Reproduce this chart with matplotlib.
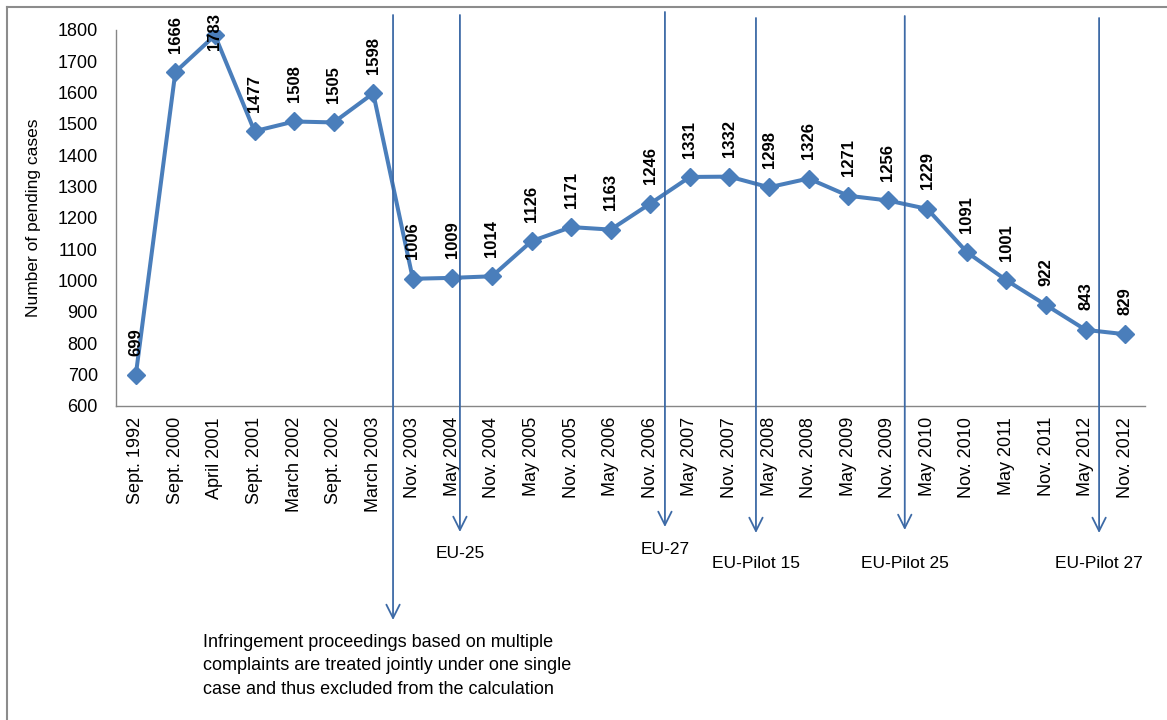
import matplotlib
matplotlib.use('Agg')
import matplotlib.pyplot as plt
from matplotlib.lines import Line2D

plt.rcParams['font.family'] = ['Liberation Sans', 'DejaVu Sans']

# survey dates and number of pending cases
dates = ['Sept. 1992', 'Sept. 2000', 'April 2001', 'Sept. 2001', 'March 2002',
         'Sept. 2002', 'March 2003', 'Nov. 2003', 'May 2004', 'Nov. 2004',
         'May 2005', 'Nov. 2005', 'May 2006', 'Nov. 2006', 'May 2007',
         'Nov. 2007', 'May 2008', 'Nov. 2008', 'May 2009', 'Nov. 2009',
         'May 2010', 'Nov. 2010', 'May 2011', 'Nov. 2011', 'May 2012', 'Nov. 2012']
pending = [699, 1666, 1783, 1477, 1508, 1505, 1598, 1006, 1009, 1014, 1126, 1171,
           1163, 1246, 1331, 1332, 1298, 1326, 1271, 1256, 1229, 1091, 1001, 922,
           843, 829]

# events marked with arrows: position (in category units), label
event_pos = [6.5, 8.19, 13.37, 15.67, 19.43, 24.34]
event_labels = ['', 'EU-25', 'EU-27', 'EU-Pilot 15', 'EU-Pilot 25', 'EU-Pilot 27']
note = ('Infringement proceedings based on multiple\n'
        'complaints are treated jointly under one single\n'
        'case and thus excluded from the calculation')

W, H = 1167, 720
fig = plt.figure(figsize=(W / 100, H / 100), dpi=100)
ax = fig.add_axes([116 / W, 1 - 406 / H, (1145 - 116) / W, (406 - 30) / H])

n = len(pending)
x = list(range(n))
line_c = '#4a7ebb'
ax.plot(x, pending, color=line_c, lw=2.9, marker='D', ms=9, zorder=3)

ax.set_xlim(-0.5, n - 0.5)
ax.set_ylim(600, 1800)
ax.set_yticks(range(600, 1801, 100))
ax.set_xticks(x)
ax.set_xticklabels(dates, rotation=90, fontsize=13)
ax.tick_params(axis='y', labelsize=13, length=0, pad=13)
ax.tick_params(axis='x', length=0, pad=8)
for s in ['top', 'right']:
    ax.spines[s].set_visible(False)
for s in ['left', 'bottom']:
    ax.spines[s].set_color('#868686')
    ax.spines[s].set_linewidth(1)
ax.set_ylabel('Number of pending cases', fontsize=12.5, labelpad=12)

# data labels above each point, kept inside the top of the figure
for xi, v in zip(x, pending):
    disp_y = ax.transData.transform((xi, v))[1]
    top_px = H - 13
    if disp_y + 20 + 38 > top_px:
        ax.annotate(str(v), (xi, top_px), xycoords=('data', 'figure pixels'),
                    rotation=90, ha='center', va='top', fontsize=12,
                    fontweight='bold', annotation_clip=False, zorder=4)
    else:
        ax.annotate(str(v), (xi, v), xytext=(0, 14), textcoords='offset points',
                    rotation=90, ha='center', va='bottom', fontsize=12,
                    fontweight='bold', annotation_clip=False, zorder=4)

# event arrows
arrow_c = '#3d6aa6'
tops = [15, 15, 12, 18, 16, 18]
ends = [620, 532, 527, 533, 530, 533]
label_y = [0, 553, 549, 563, 563, 563]
for p, lab, t, e, ly in zip(event_pos, event_labels, tops, ends, label_y):
    ax.annotate('', xy=(p, H - e), xytext=(p, H - t),
                xycoords=('data', 'figure pixels'),
                textcoords=('data', 'figure pixels'),
                arrowprops=dict(arrowstyle='->', color=arrow_c, lw=1.3,
                                mutation_scale=24, shrinkA=0, shrinkB=0),
                annotation_clip=False, zorder=5)
    if lab:
        ax.annotate(lab, (p, H - ly), xycoords=('data', 'figure pixels'),
                    ha='center', va='center', fontsize=12.5, annotation_clip=False)

fig.text(203 / W, 1 - 634 / H, note, ha='left', va='top', fontsize=13,
         linespacing=1.5)

# chart frame (left and top edges visible)
fig.add_artist(Line2D([7 / W, 7 / W], [0, 1 - 7 / H], color='#8c8c8c', lw=1.5,
                      transform=fig.transFigure))
fig.add_artist(Line2D([7 / W, 1], [1 - 7 / H, 1 - 7 / H], color='#8c8c8c', lw=1.5,
                      transform=fig.transFigure))

fig.savefig('out.png', dpi=100, facecolor='white')
